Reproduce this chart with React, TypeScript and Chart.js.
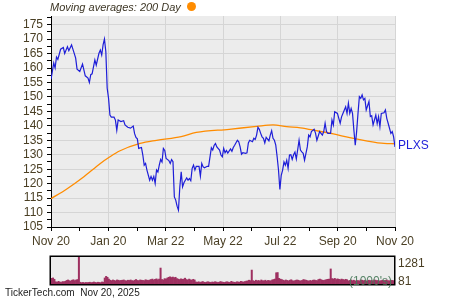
import React, { useEffect, useRef } from 'react';
import { Chart, registerables } from 'chart.js';

Chart.register(...registerables);

// ---------- data ----------
const xTickLabels = ['Nov 20', 'Jan 20', 'Mar 22', 'May 22', 'Jul 22', 'Sep 20', 'Nov 20'];
const lastDay = 251; // trading-day index of the last session
const symbol = 'PLXS';
const maLabel = 'Moving averages: 200 Day';
const footerText = 'TickerTech.com  Nov 20, 2025';

const priceDays = [
  0, 2, 3, 4, 5, 7, 9, 10, 12, 13, 15, 17, 18, 19, 21, 23, 25, 27, 28, 29,
  30, 32, 33, 35, 36, 37, 38, 39, 40, 41, 42, 43, 44, 46, 47, 48, 49, 51, 53, 54,
  56, 58, 60, 61, 62, 63, 64, 66, 67, 68, 69, 70, 72, 73, 74, 75, 76, 77, 78, 79,
  80, 81, 82, 83, 84, 86, 87, 88, 89, 90, 91, 92, 93, 94, 95, 96, 97, 98, 99, 100,
  101, 102, 103, 104, 105, 106, 108, 109, 110, 111, 112, 114, 115, 117, 118, 119, 120, 121, 123, 124,
  125, 126, 127, 128, 129, 131, 132, 133, 134, 136, 137, 138, 139, 140, 142, 143, 144, 145, 147, 148,
  149, 150, 151, 152, 153, 154, 155, 156, 157, 159, 160, 161, 162, 163, 164, 165, 166, 167, 168, 169,
  170, 171, 172, 173, 174, 175, 176, 177, 178, 179, 181, 182, 183, 184, 185, 187, 188, 189, 190, 192,
  193, 194, 195, 196, 198, 199, 200, 201, 202, 204, 205, 206, 207, 209, 210, 211, 212, 213, 215, 216,
  217, 218, 219, 220, 221, 222, 223, 224, 225, 226, 227, 228, 229, 230, 232, 233, 234, 235, 237, 238,
  239, 240, 241, 243, 244, 245, 246, 248, 249, 250, 251,
];
const prices = [
  156.1, 161.7, 160, 163.8, 163, 166.5, 167.1, 165, 167.4, 166, 168, 165, 163.4, 159.6, 158.8, 161.4, 157.3, 156.5, 155, 157.7,
  158, 162.8, 161, 165.1, 166.2, 164.5, 168, 170, 165.7, 153, 149.5, 143.7, 143, 143, 142, 138.5, 142, 141.5, 141.8, 140.3,
  139.5, 139.2, 139.9, 137.3, 136, 135.5, 132.2, 132.5, 129.9, 126.4, 127, 124.7, 121.2, 122.5, 121.2, 122.5, 120.1, 124.7, 124, 126.4,
  128.4, 127.5, 132.2, 131.5, 128.7, 128, 127, 128.3, 127.6, 115.4, 114.3, 112.2, 110.8, 118.9, 124.1, 118.9, 120.3, 121.2, 122, 121.2,
  121.8, 121, 125.3, 126.4, 124.7, 126, 126, 122.6, 127, 125.8, 125.5, 126, 126, 132.4, 131.6, 133.2, 133.9, 132.7, 131.6, 129.9,
  129.3, 132.2, 130.7, 131.5, 130.6, 132, 131.2, 132.5, 133.3, 135, 134.5, 132.7, 130.2, 130.7, 130.5, 130.7, 134.1, 135, 134.5, 135.7,
  135.3, 136.8, 139.5, 138.8, 137.4, 136.2, 135.7, 134.1, 136, 134.8, 136.8, 138.3, 135.7, 135, 133.3, 129.3, 124.7, 118, 122.9, 124.7,
  127.5, 126.4, 128.1, 125.3, 129.9, 130, 128.4, 130, 130.9, 128.5, 135, 131.6, 131, 130.5, 128.1, 132.7, 136.8, 136.2, 138, 138.8,
  137.5, 135, 136.5, 138, 136.8, 138, 140.9, 138, 137.4, 137.4, 142, 140.3, 144.9, 144.3, 142.6, 140.9, 143.1, 144.3, 146.6, 144.3,
  147.8, 144.3, 146, 144.3, 138.5, 133.3, 138, 144.3, 150.1, 149.5, 150.7, 149, 149.5, 145.5, 148.4, 143.2, 143.5, 140.3, 143.7, 140.8,
  143.2, 139.7, 144.3, 144.5, 145.5, 142.6, 140.9, 137.4, 138, 136.2, 132.7,
];

const maDays = [0, 11, 24, 36, 43, 50, 65, 77, 95, 106, 130, 150, 162, 172, 182, 194, 206, 218, 230, 243, 251];
const maValues = [114.8, 118, 122.4, 127, 129.3, 131.3, 133.9, 135, 136.3, 137.7, 138.8, 139.8, 140.3, 139.7, 139.3, 138.3, 137.2, 135.9, 134.8, 133.9, 133.8];

// daily volume, thousands of shares
const volumes = [
  330, 350, 290, 180, 160, 200, 170, 150, 190, 180,
  200, 240, 260, 230, 210, 250, 270, 230, 260, 280,
  1281,
  160, 140, 150, 130, 150, 140, 150, 160, 140, 150, 170, 150, 140, 160, 150, 140, 170, 160,
  350, 420, 380, 300,
  250, 230, 260, 240, 220, 260, 250, 230, 240, 250, 260, 230, 220, 250, 240, 260, 230, 220, 250, 280,
  240, 230, 260, 250, 240, 230, 270, 250, 240, 260,
  280, 300, 260, 290, 310, 270, 300,
  790,
  280, 260, 320, 300, 350, 380, 400, 370, 390, 360, 380, 320, 300, 280, 310, 290, 300, 340, 280, 260,
  300, 270, 250, 290, 260,
  170, 160, 180, 150, 170, 190, 160, 150, 170, 180, 160, 150, 170, 160, 180, 170, 150, 160, 190, 170,
  160, 150, 170, 180, 160, 150, 200, 170, 160, 150, 180, 170, 160, 200, 180, 170, 190, 210,
  220, 250, 230,
  700,
  230, 200, 250, 220, 240, 210, 260, 230, 220, 250, 210, 240, 230, 220, 260, 280,
  300, 580, 590, 330,
  300, 280, 250, 230, 260, 240, 220, 250, 270, 230, 210, 240, 260, 250, 230, 220, 240, 280, 260, 250,
  230, 210, 240, 220, 250, 260, 240, 230, 280, 300, 270, 250, 240, 260, 280, 290, 300,
  750,
  320, 300, 330, 280, 310, 290, 270, 300, 280, 260, 290, 270,
  220, 240, 260, 230, 250, 210, 240, 230, 220, 260, 250, 230, 240, 220, 210, 250, 230, 240, 220, 260,
  250, 230, 240, 210, 230, 250, 220, 240, 260, 230, 220, 250, 240, 230,
];
const volMin = 81;
const volMax = 1281;

const yMin = 105;
const yMax = 178;
const yLabelStep = 5;
const yMinorStep = 2.5;

// ---------- styles ----------
const FONT = "'Liberation Sans', Arial, Helvetica, sans-serif";
const TEXT = '#4a3f24';
const GRID = '#d5d5d5';
const PLOT_BG = '#ececec';
const BLUE = '#1e1ed8';
const ORANGE = '#ff8c00';
const VOL = '#9e3060';

export default function App() {
  const mainRef = useRef<HTMLCanvasElement | null>(null);
  const volRef = useRef<HTMLCanvasElement | null>(null);

  useEffect(() => {
    const prevMargin = document.body.style.margin;
    document.body.style.margin = '0';

    const bgPlugin = {
      id: 'plotBg',
      beforeDraw(chart: any) {
        const { ctx, chartArea: a } = chart;
        ctx.save();
        ctx.fillStyle = PLOT_BG;
        ctx.fillRect(a.left, a.top, a.right - a.left, a.bottom - a.top);
        ctx.restore();
      },
    };

    const labelPlugin = {
      id: 'symbolLabel',
      afterDatasetsDraw(chart: any) {
        const { ctx, chartArea: a, scales } = chart;
        const y = scales.y.getPixelForValue(prices[prices.length - 1]);
        ctx.save();
        ctx.font = `12px ${FONT}`;
        ctx.fillStyle = BLUE;
        ctx.textAlign = 'left';
        ctx.textBaseline = 'middle';
        ctx.fillText(symbol, a.right + 3, y - 1);
        ctx.restore();
      },
    };

    const nX = (xTickLabels.length - 1) * 2;

    const main = new Chart(mainRef.current as HTMLCanvasElement, {
      type: 'line',
      data: {
        datasets: [
          {
            label: symbol,
            data: priceDays.map((d, i) => ({ x: d, y: prices[i] })),
            borderColor: BLUE,
            borderWidth: 1.2,
            pointRadius: 0,
            tension: 0,
            order: 0,
          },
          {
            label: '200 Day',
            data: maDays.map((d, i) => ({ x: d, y: maValues[i] })),
            borderColor: ORANGE,
            borderWidth: 1.3,
            pointRadius: 0,
            cubicInterpolationMode: 'monotone',
            order: 1,
          },
        ],
      },
      options: {
        animation: false,
        responsive: false,
        events: [],
        layout: { padding: { top: 16, right: 55, left: 0, bottom: 0 } },
        plugins: { legend: { display: false }, tooltip: { enabled: false }, title: { display: false } },
        scales: {
          x: {
            type: 'linear',
            min: 0,
            max: lastDay,
            afterBuildTicks: (axis: any) => {
              axis.ticks = Array.from({ length: nX + 1 }, (_, k) => ({ value: (k * lastDay) / nX }));
            },
            afterFit: (axis: any) => {
              axis.height = 23;
            },
            ticks: {
              autoSkip: false,
              maxRotation: 0,
              padding: 3,
              color: TEXT,
              font: { family: FONT, size: 12 },
              callback: (_v: any, i: number) => (i % 2 === 0 ? xTickLabels[i / 2] : ''),
            },
            grid: {
              color: (c: any) => (c.index % 2 === 0 ? GRID : 'rgba(0,0,0,0)'),
              tickColor: '#000',
              tickLength: 4,
              lineWidth: 1,
            },
            border: { color: '#000', width: 1 },
          },
          y: {
            type: 'linear',
            min: yMin,
            max: yMax,
            afterBuildTicks: (axis: any) => {
              const t: any[] = [];
              for (let v = yMin; v <= yMax; v += yMinorStep) t.push({ value: v });
              axis.ticks = t;
            },
            afterFit: (axis: any) => {
              axis.width = 51;
            },
            ticks: {
              autoSkip: false,
              padding: 4,
              color: TEXT,
              font: { family: FONT, size: 12 },
              callback: (v: any) => (Math.abs(v % yLabelStep) < 1e-6 ? String(v) : ''),
            },
            grid: {
              color: (c: any) =>
                c.tick && Math.abs(c.tick.value % yLabelStep) < 1e-6 ? GRID : 'rgba(0,0,0,0)',
              tickColor: '#000',
              tickLength: 4,
              lineWidth: 1,
            },
            border: { color: '#000', width: 1 },
          },
        },
      },
      plugins: [bgPlugin, labelPlugin],
    } as any);

    const volPlugin = {
      id: 'volDecor',
      beforeDraw(chart: any) {
        const { ctx, chartArea: a } = chart;
        ctx.save();
        ctx.fillStyle = PLOT_BG;
        ctx.fillRect(a.left, a.top, a.right - a.left, a.bottom - a.top);
        ctx.restore();
      },
      afterDraw(chart: any) {
        const { ctx, chartArea: a } = chart;
        ctx.save();
        ctx.strokeStyle = '#000';
        ctx.lineWidth = 1.5;
        ctx.strokeRect(a.left - 0.75, a.top - 0.75, a.right - a.left + 1.5, a.bottom - a.top + 1.5);
        ctx.font = `12px ${FONT}`;
        ctx.textAlign = 'right';
        ctx.textBaseline = 'middle';
        ctx.fillStyle = 'rgba(70,120,88,0.9)';
        ctx.fillText("(1000's)", a.right - 2, a.bottom - 2);
        ctx.textAlign = 'left';
        ctx.fillStyle = TEXT;
        ctx.textBaseline = 'top';
        ctx.fillText(String(volMax), a.right + 4, a.top + 1);
        ctx.textBaseline = 'middle';
        ctx.fillText(String(volMin), a.right + 4, a.bottom - 2);
        ctx.restore();
      },
    };

    const vol = new Chart(volRef.current as HTMLCanvasElement, {
      type: 'bar',
      data: {
        datasets: [
          {
            label: 'Volume',
            data: volumes.map((v, i) => ({ x: i, y: v })),
            backgroundColor: VOL,
            borderWidth: 0,
            barPercentage: 1,
            categoryPercentage: 1,
          },
        ],
      },
      options: {
        animation: false,
        responsive: false,
        events: [],
        layout: { padding: { top: 7, right: 56, left: 51, bottom: 4 } },
        plugins: { legend: { display: false }, tooltip: { enabled: false } },
        scales: {
          x: { type: 'linear', min: -0.5, max: lastDay + 0.5, display: false, offset: false },
          y: { type: 'linear', min: volMin, max: volMax, display: false },
        },
      },
      plugins: [volPlugin],
    } as any);

    return () => {
      main.destroy();
      vol.destroy();
      document.body.style.margin = prevMargin;
    };
  }, []);

  return (
    <div
      style={{
        position: 'fixed',
        left: 0,
        top: 0,
        width: 450,
        height: 300,
        background: '#fff',
        overflow: 'hidden',
        fontFamily: FONT,
      }}
    >
      <canvas ref={mainRef} width={450} height={250} style={{ position: 'absolute', left: 0, top: 0 }} />
      <canvas ref={volRef} width={450} height={38} style={{ position: 'absolute', left: 0, top: 250 }} />
      <div
        style={{
          position: 'absolute',
          left: 50,
          top: 1,
          fontSize: 11,
          lineHeight: '13px',
          fontStyle: 'italic',
          color: '#3d3625',
          whiteSpace: 'pre',
        }}
      >
        {maLabel}
      </div>
      <div
        style={{
          position: 'absolute',
          left: 187,
          top: 2,
          width: 9,
          height: 9,
          borderRadius: '50%',
          background: ORANGE,
        }}
      />
      <div
        style={{
          position: 'absolute',
          left: 5,
          top: 287,
          fontSize: 10,
          lineHeight: '12px',
          color: '#222',
          whiteSpace: 'pre',
        }}
      >
        {footerText}
      </div>
    </div>
  );
}
